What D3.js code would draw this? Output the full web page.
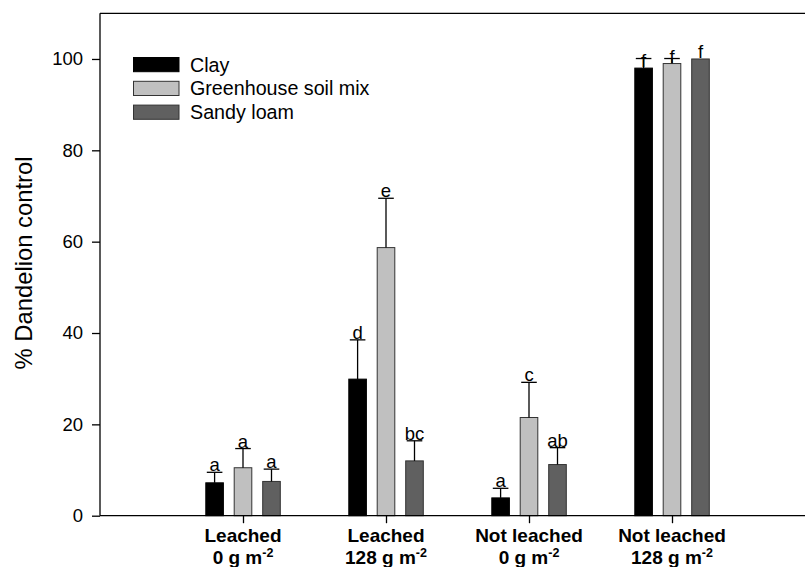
<!DOCTYPE html>
<html>
<head>
<meta charset="utf-8">
<script src="https://cdn.jsdelivr.net/npm/d3@7"></script>
<style>
  body { margin: 0; background: #fff; overflow: hidden; }
  text { font-family: "Liberation Sans", Arial, sans-serif; }
</style>
</head>
<body>
<div id="chart"></div>
<script>
// data
var groupNames = ['Leached', 'Leached', 'Not leached', 'Not leached']
var groupRates = ['0', '128', '0', '128']
var seriesNames = ['Clay', 'Greenhouse soil mix', 'Sandy loam']

var clay = [7.2, 29.9, 3.9, 98.0]
var greenhouse = [10.5, 58.7, 21.5, 99.0]
var sandy = [7.5, 12.0, 11.2, 100]

var clayErr = [2.3, 8.6, 2.1, 2.1]
var greenhouseErr = [4.2, 10.8, 7.7, 1.1]
var sandyErr = [2.7, 4.4, 3.7, 0]

var clayLetters = ['a', 'd', 'a', 'f']
var greenhouseLetters = ['a', 'e', 'c', 'f']
var sandyLetters = ['a', 'bc', 'ab', 'f']

var yTicks = [0, 20, 40, 60, 80, 100]

var fills = ['#000000', '#c0c0c0', '#606060']
var strokes = ['#000000', '#333333', '#333333']

var values = [clay, greenhouse, sandy]
var errs = [clayErr, greenhouseErr, sandyErr]
var letters = [clayLetters, greenhouseLetters, sandyLetters]

var W = 805, H = 567
var plotL = 100, plotT = 13.3, plotB = 515.7, plotR = 815

var svg = d3.select('#chart').append('svg').attr('width', W).attr('height', H)
  .style('display', 'block')

var groups = d3.range(groupNames.length)
var x = d3.scalePoint().domain(groups).range([plotL, plotR]).padding(1)
var inner = d3.scaleLinear().domain([0, 1, 2]).range([-28.4, 0, 28.5])
var y = d3.scaleLinear().domain([0, 110]).range([plotB, plotT])
var barW = 17.6

// bars, error bars, letters
var rows = []
seriesNames.forEach(function(s, si){
  groups.forEach(function(g){
    rows.push({ s: si, g: g, v: values[si][g], e: errs[si][g], l: letters[si][g] })
  })
})

var plot = svg.append('g')

plot.selectAll('rect.bar').data(rows).enter().append('rect')
  .attr('class', 'bar')
  .attr('x', function(d){ return x(d.g) + inner(d.s) - barW / 2 })
  .attr('y', function(d){ return y(d.v) })
  .attr('width', barW)
  .attr('height', function(d){ return y(0) - y(d.v) })
  .attr('fill', function(d){ return fills[d.s] })
  .attr('stroke', function(d){ return strokes[d.s] })
  .attr('stroke-width', 1)

var eb = rows.filter(function(d){ return d.e > 0 })
plot.selectAll('line.err').data(eb).enter().append('line')
  .attr('class', 'err')
  .attr('x1', function(d){ return x(d.g) + inner(d.s) })
  .attr('x2', function(d){ return x(d.g) + inner(d.s) })
  .attr('y1', function(d){ return y(d.v) })
  .attr('y2', function(d){ return y(d.v + d.e) })
  .attr('stroke', '#000').attr('stroke-width', 1.3)
plot.selectAll('line.cap').data(eb).enter().append('line')
  .attr('class', 'cap')
  .attr('x1', function(d){ return x(d.g) + inner(d.s) - 7.8 })
  .attr('x2', function(d){ return x(d.g) + inner(d.s) + 7.8 })
  .attr('y1', function(d){ return y(d.v + d.e) })
  .attr('y2', function(d){ return y(d.v + d.e) })
  .attr('stroke', '#000').attr('stroke-width', 1.3)

plot.selectAll('text.let').data(rows).enter().append('text')
  .attr('class', 'let')
  .attr('x', function(d){ return x(d.g) + inner(d.s) })
  .attr('y', function(d){
    // letters over the 100% group sit on the bar, others on the error cap
    var t = d.v + d.e > 100 ? d.v : d.v + d.e
    return y(t) - 1
  })
  .attr('text-anchor', 'middle')
  .attr('font-size', 18.5)
  .attr('fill', '#000')
  .text(function(d){ return d.l })

// axes
var yAxis = svg.append('g').attr('transform', 'translate(' + plotL + ',0)')
  .call(d3.axisLeft(y).tickValues(yTicks).tickSize(8).tickPadding(9))
yAxis.select('.domain').remove()
yAxis.selectAll('line').attr('stroke', '#000').attr('stroke-width', 1.3)
yAxis.selectAll('text').attr('font-size', 18.5).attr('fill', '#000')
  .attr('font-family', '"Liberation Sans", Arial, sans-serif')

var xAxis = svg.append('g').attr('transform', 'translate(0,' + plotB + ')')
  .call(d3.axisBottom(x).tickSize(7.5).tickFormat(''))
xAxis.select('.domain').remove()
xAxis.selectAll('line').attr('stroke', '#000').attr('stroke-width', 1.3)

// frame: left, bottom, top
svg.append('line').attr('x1', plotL).attr('x2', plotL).attr('y1', plotT).attr('y2', plotB)
  .attr('stroke', '#000').attr('stroke-width', 1.3)
svg.append('line').attr('x1', plotL).attr('x2', plotR).attr('y1', plotB).attr('y2', plotB)
  .attr('stroke', '#000').attr('stroke-width', 1.3)
svg.append('line').attr('x1', plotL).attr('x2', plotR).attr('y1', plotT).attr('y2', plotT)
  .attr('stroke', '#000').attr('stroke-width', 1.3)

// category labels
var lab = svg.append('g').selectAll('g').data(groups).enter().append('g')
lab.append('text')
  .attr('x', function(g){ return x(g) })
  .attr('y', 542)
  .attr('text-anchor', 'middle')
  .attr('font-size', 19)
  .attr('font-weight', 'bold')
  .text(function(g){ return groupNames[g] })
var l2 = lab.append('text')
  .attr('x', function(g){ return x(g) })
  .attr('y', 564)
  .attr('text-anchor', 'middle')
  .attr('font-size', 19)
  .attr('font-weight', 'bold')
l2.append('tspan').text(function(g){ return groupRates[g] + ' g m' })
l2.append('tspan').attr('font-size', 12.5).attr('dy', -7).text('-2')

// y label
svg.append('text')
  .attr('transform', 'translate(32,263) rotate(-90)')
  .attr('text-anchor', 'middle')
  .attr('font-size', 23.8)
  .text('% Dandelion control')

// legend
var leg = svg.append('g').selectAll('g').data(seriesNames).enter().append('g')
  .attr('transform', function(d, i){ return 'translate(133.5,' + (57.5 + i * 23.8) + ')' })
leg.append('rect')
  .attr('width', 45.5).attr('height', 14.2)
  .attr('fill', function(d, i){ return fills[i] })
  .attr('stroke', function(d, i){ return strokes[i] })
  .attr('stroke-width', 1)
leg.append('text')
  .attr('x', 56.5).attr('y', 14)
  .attr('font-size', 19.7)
  .text(function(d){ return d })
</script>
</body>
</html>
